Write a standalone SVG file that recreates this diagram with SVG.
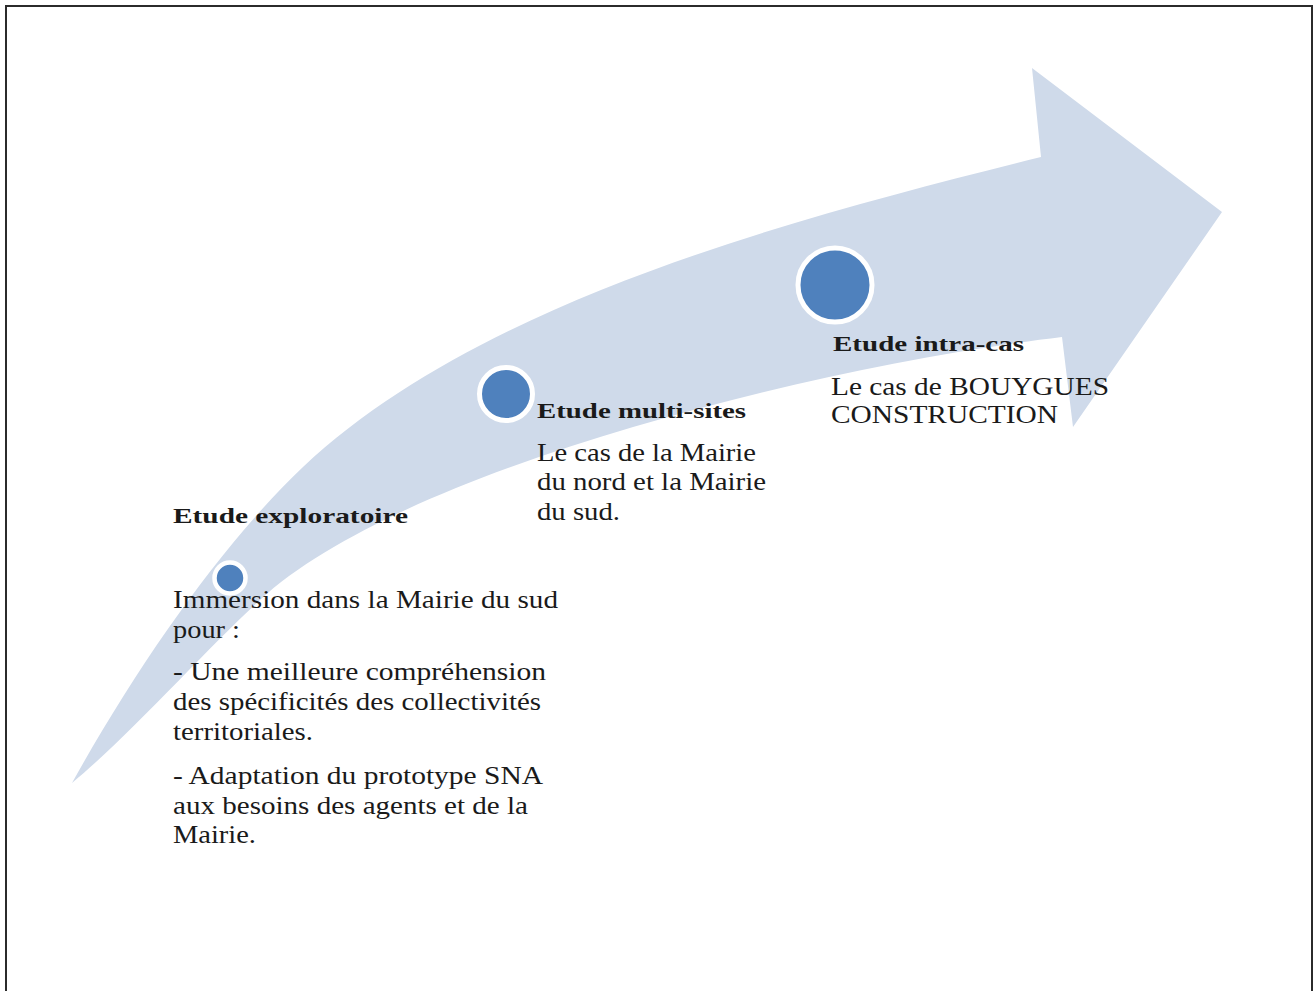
<svg xmlns="http://www.w3.org/2000/svg" width="1315" height="991" viewBox="0 0 1315 991">
  <style>
    .band { fill: #cfdaea; }
    .dot { fill: #4f81bd; stroke: #ffffff; }
    .head { font-family: "Liberation Serif", "Times New Roman", serif; font-weight: bold; font-size: 21px; fill: #1a1a1a; }
    .body { font-family: "Liberation Serif", "Times New Roman", serif; font-size: 26px; fill: #1a1a1a; }
  </style>
  <rect x="0" y="0" width="1315" height="991" fill="#ffffff"/>
  <rect x="6" y="6" width="1306" height="1000" fill="none" stroke="#2b2b2b" stroke-width="2"/>

  <g id="connectors">
    <path class="band" d="M72,783 C142,657 226,540 303,467 C480,300 800,217 1041,157 L1032,68 L1222,212 L1073,427 L1062,337 C812,367 400,470 260,600 C210,645 130,735 72,783 Z"/>
  </g>

  <g id="node-exploratoire">
    <circle class="dot" cx="230" cy="578" r="15.5" stroke-width="4.5"/>
    <text class="head" x="173" y="523" textLength="235" lengthAdjust="spacingAndGlyphs">Etude exploratoire</text>
    <text class="body" x="173" y="608" textLength="385" lengthAdjust="spacingAndGlyphs">Immersion dans la Mairie du sud</text>
    <text class="body" x="173" y="638" textLength="67" lengthAdjust="spacingAndGlyphs">pour :</text>
    <text class="body" x="173" y="680" textLength="373" lengthAdjust="spacingAndGlyphs">- Une meilleure  compréhension</text>
    <text class="body" x="173" y="710" textLength="368" lengthAdjust="spacingAndGlyphs">des spécificités  des collectivités</text>
    <text class="body" x="173" y="740" textLength="140" lengthAdjust="spacingAndGlyphs">territoriales.</text>
    <text class="body" x="173" y="784" textLength="370" lengthAdjust="spacingAndGlyphs">- Adaptation du prototype SNA</text>
    <text class="body" x="173" y="814" textLength="355" lengthAdjust="spacingAndGlyphs">aux besoins des agents et de la</text>
    <text class="body" x="173" y="843" textLength="83" lengthAdjust="spacingAndGlyphs">Mairie.</text>
  </g>

  <g id="node-multisites">
    <circle class="dot" cx="506" cy="394" r="26.5" stroke-width="5"/>
    <text class="head" x="537" y="418" textLength="209" lengthAdjust="spacingAndGlyphs">Etude multi-sites</text>
    <text class="body" x="537" y="461" textLength="219" lengthAdjust="spacingAndGlyphs">Le cas de la Mairie</text>
    <text class="body" x="537" y="490" textLength="229" lengthAdjust="spacingAndGlyphs">du nord et la Mairie</text>
    <text class="body" x="537" y="520" textLength="83" lengthAdjust="spacingAndGlyphs">du sud.</text>
  </g>

  <g id="node-intracas">
    <circle class="dot" cx="835" cy="285" r="37" stroke-width="5"/>
    <text class="head" x="833" y="351" textLength="191" lengthAdjust="spacingAndGlyphs">Etude intra-cas</text>
    <text class="body" x="831" y="395" textLength="278" lengthAdjust="spacingAndGlyphs">Le cas de BOUYGUES</text>
    <text class="body" x="831" y="423" textLength="227" lengthAdjust="spacingAndGlyphs">CONSTRUCTION</text>
  </g>
</svg>
